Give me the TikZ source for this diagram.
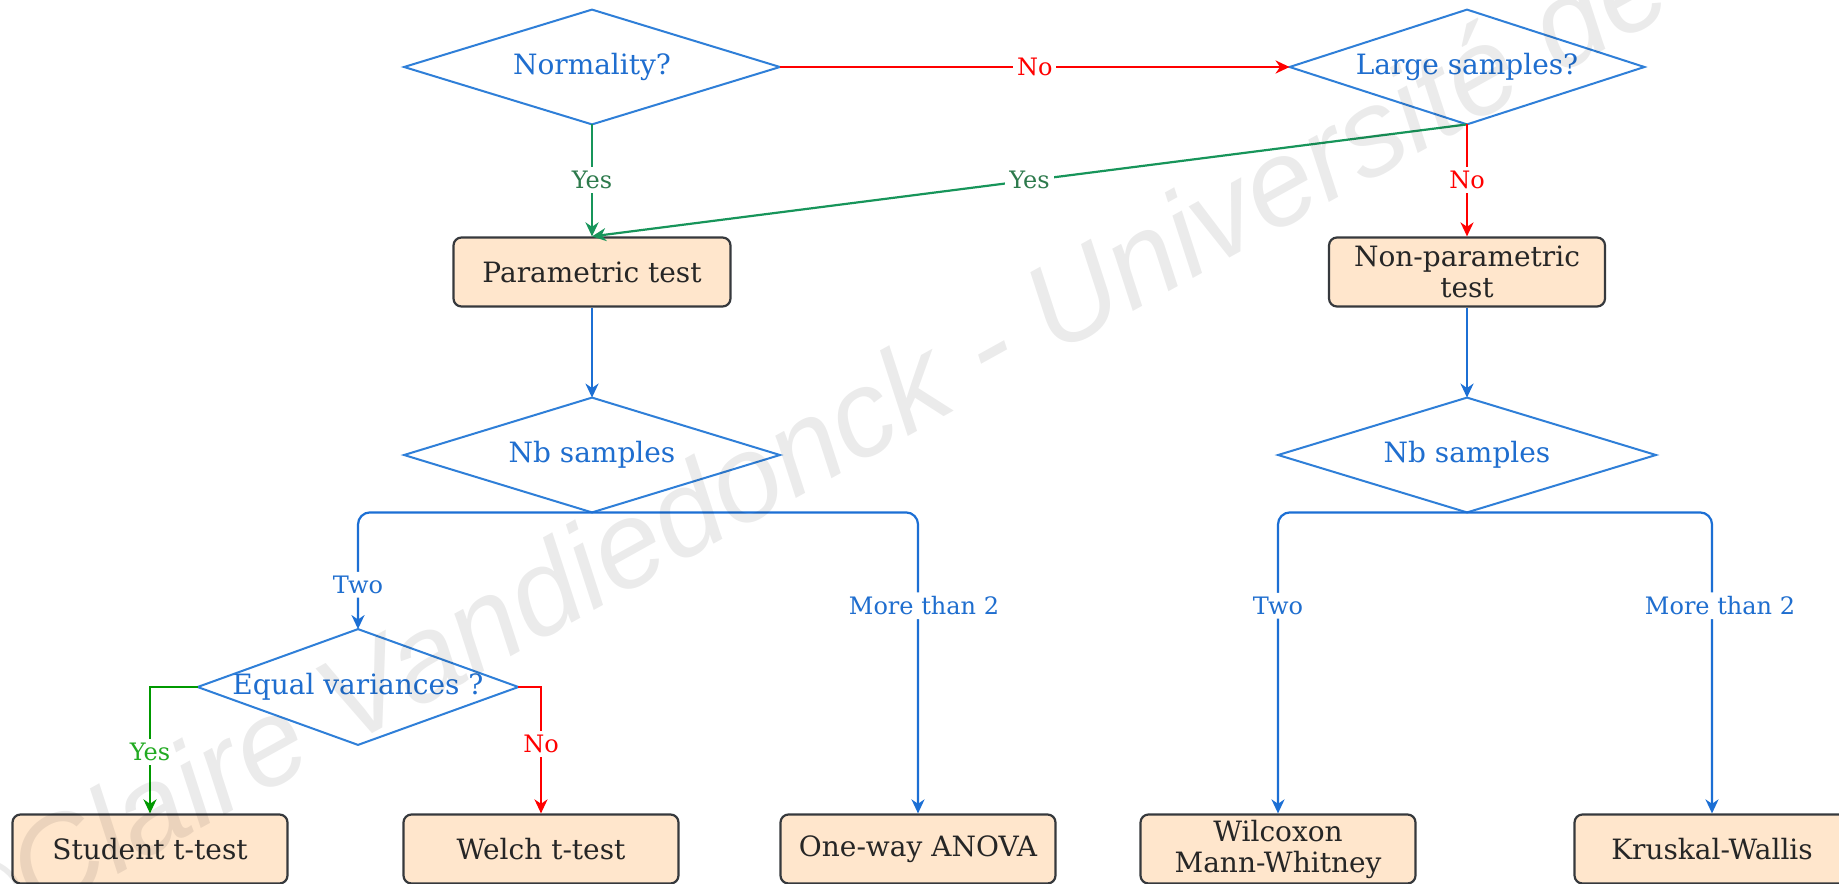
\documentclass[tikz,border=0pt]{standalone}
\usepackage{fontspec}
\setmainfont{DejaVu Serif}
\newfontfamily\wmfont{Liberation Sans}
\usetikzlibrary{arrows.meta}

\definecolor{qline}{HTML}{2F7FD8}
\definecolor{qtext}{HTML}{1F6ECF}
\definecolor{lblue}{HTML}{1C6FD4}
\definecolor{lred}{HTML}{FF0000}
\definecolor{lgreen}{HTML}{17955A}
\definecolor{tgreen}{HTML}{2D7A4C}
\definecolor{bgreen}{HTML}{009900}
\definecolor{tbgreen}{HTML}{22AA22}
\definecolor{boxfill}{HTML}{FFE6CC}
\definecolor{boxline}{HTML}{36393D}

\begin{document}
\begin{tikzpicture}[x=0.5pt,y=-0.5pt,
  question/.style={rectangle, inner sep=0pt, text=qtext,
    font=\fontsize{14}{16}\selectfont, minimum height=57pt},
  outcome/.style={rectangle, rounded corners=4pt, draw=boxline, line width=1.1pt,
    fill=boxfill, minimum width=137.5pt, minimum height=34.5pt, inner sep=0pt,
    align=center, font=\fontsize{14}{15.5}\selectfont, text=black!85},
  link/.style={line width=1.1pt,
    -{Stealth[length=7pt,width=6.5pt,inset=2.2pt]}},
  forklink/.style={link, rounded corners=6pt},
  tag/.style={fill=white, inner sep=2pt, font=\fontsize{12}{12}\selectfont},
  outline/.style={draw=qline, line width=1pt, line join=miter},
]
\path[use as bounding box, fill=white] (0,0) rectangle (1839,883);
\clip (0,0) rectangle (1839,883);

% decision nodes (diamond outlines drawn from their anchors below)
\node[question, minimum width=187.5pt] (norm)  at (592,67)  {Normality?};
\node[question, minimum width=177pt]   (large) at (1467,67) {Large samples?};
\node[question, minimum width=187.5pt] (nbl)   at (592,455) {Nb samples};
\node[question, minimum width=188.5pt] (nbr)   at (1467,455) {Nb samples};
\node[question, minimum width=160pt, minimum height=57.5pt] (eqv) at (358,687) {Equal variances ?};
\foreach \n in {norm,large,nbl,nbr,eqv}
  \draw[outline] (\n.north) -- (\n.east) -- (\n.south) -- (\n.west) -- cycle;

% test boxes
\node[outcome, minimum width=138.5pt] (param)    at (592,272)  {Parametric test};
\node[outcome, minimum width=138pt]   (nonparam) at (1467,272) {Non-parametric\\test};
\node[outcome] (student) at (150,849)  {Student t-test};
\node[outcome] (welch)   at (541,849)  {Welch t-test};
\node[outcome] (anova)   at (918,849)  {One-way ANOVA};
\node[outcome] (wilcox)  at (1278,849) {Wilcoxon\\Mann-Whitney};
\node[outcome] (kruskal) at (1712,849) {Kruskal-Wallis};

% top decisions
\draw[link, lred] (norm.east) -- node[tag, text=lred] {No} (large.west);
\draw[link, lgreen] (norm.south) -- node[tag, text=tgreen] {Yes} (param.north);
\draw[link, lgreen] (large.south) -- node[tag, text=tgreen] {Yes} (param.north);
\draw[link, lred] (large.south) -- node[tag, text=lred] {No} (nonparam.north);

% into the sample-count questions
\draw[link, lblue] (param.south) -- (nbl.north);
\draw[link, lblue] (nonparam.south) -- (nbr.north);

% parametric branch
\draw[forklink, lblue] (nbl.south) -| node[tag, text=qtext, pos=0.81] {Two} (eqv.north);
\draw[forklink, lblue] (nbl.south) -| node[tag, text=qtext, pos=0.655, xshift=3pt] {More than 2} (anova.north);
\draw[link, bgreen] (eqv.west) -| node[tag, text=tbgreen, pos=0.758] {Yes} (student.north);
\draw[link, lred] (eqv.east) -| node[tag, text=lred, pos=0.727] {No} (welch.north);

% non-parametric branch
\draw[forklink, lblue] (nbr.south) -| node[tag, text=qtext, pos=0.655] {Two} (wilcox.north);
\draw[forklink, lblue] (nbr.south) -| node[tag, text=qtext, pos=0.655, xshift=4pt] {More than 2} (kruskal.north);

% copyright mark across the sheet
\node[anchor=base west, rotate=29, inner sep=0pt, text=black, text opacity=0.08,
  font=\fontsize{61}{61}\wmfont\itshape] (mark) at (-40,962) {©Claire Vandiedonck - Université de};
\end{tikzpicture}
\end{document}
